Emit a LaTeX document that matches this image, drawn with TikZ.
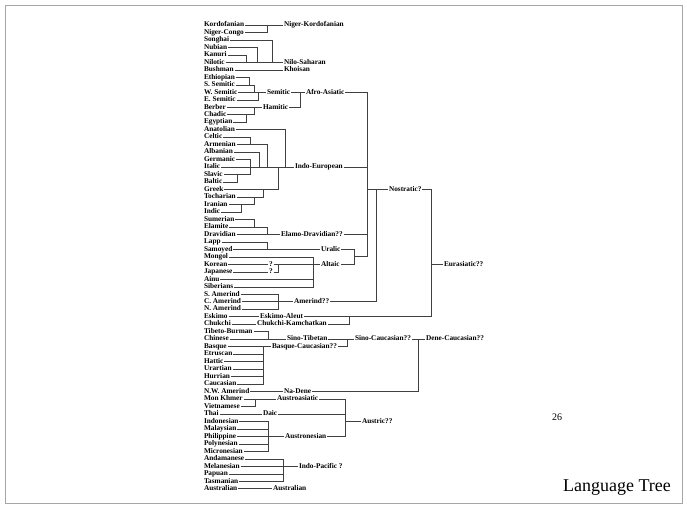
\documentclass[tikz,border=0pt]{standalone}
\usepackage{fontspec}
\setmainfont{Liberation Serif}
\usetikzlibrary{calc}

\tikzset{
  leaf/.style={anchor=west,inner sep=0.8pt,text height=5pt,text depth=1.5pt,
    font=\bfseries\fontsize{7.3}{8}\selectfont},
  grp/.style={leaf},
  link/.style={draw=black!75,line width=0.55pt}
}

\begin{document}
\begin{tikzpicture}[x=1pt,y=-1pt]
  \useasboundingbox (0,0) rectangle (687,508);
  \draw[black!35,line width=0.6pt] (5,5) rectangle (682,503);

  % languages, one row each
  \foreach \n/\t [count=\i from 0] in {kordo/Kordofanian,nicongo/Niger-Congo,
      songhai/Songhai,nubian/Nubian,kanuri/Kanuri,nilotic/Nilotic,bushman/Bushman,
      ethiop/Ethiopian,ssem/S. Semitic,wsem/W. Semitic,esem/E. Semitic,
      berber/Berber,chadic/Chadic,egypt/Egyptian,anat/Anatolian,celtic/Celtic,
      armen/Armenian,alban/Albanian,germ/Germanic,italic/Italic,slavic/Slavic,
      baltic/Baltic,greek/Greek,tochar/Tocharian,iran/Iranian,indic/Indic,
      sumer/Sumerian,elam/Elamite,dravid/Dravidian,lapp/Lapp,samoyed/Samoyed,
      mongol/Mongol,korean/Korean,japan/Japanese,ainu/Ainu,siber/Siberians,
      samer/S. Amerind,camer/C. Amerind,namer/N. Amerind,eskimo/Eskimo,
      chukchi/Chukchi,tibbur/Tibeto-Burman,chinese/Chinese,basque/Basque,
      etrus/Etruscan,hattic/Hattic,urart/Urartian,hurrian/Hurrian,cauc/Caucasian,
      nwamer/N.W. Amerind,monkh/Mon Khmer,viet/Vietnamese,thai/Thai,
      indon/Indonesian,malay/Malaysian,phil/Philippine,polyn/Polynesian,
      micron/Micronesian,andam/Andamanese,melan/Melanesian,papuan/Papuan,
      tasman/Tasmanian,austral/Australian}
    \node[leaf] (\n) at (203,{25+7.48*\i}) {\t};

  % families
  \node[grp] (nk) at (283,0 |- kordo) {Niger-Kordofanian};
  \node[grp] (ns) at (283,0 |- nilotic) {Nilo-Saharan};
  \node[grp] (khoi) at (283,0 |- bushman) {Khoisan};
  \node[grp] (sem) at (266,0 |- wsem) {Semitic};
  \node[grp] (afroas) at (305,0 |- wsem) {Afro-Asiatic};
  \node[grp] (ham) at (262,0 |- berber) {Hamitic};
  \node[grp] (ie) at (294,0 |- italic) {Indo-European};
  \node[grp] (ed) at (280,0 |- dravid) {Elamo-Dravidian??};
  \node[grp] (ural) at (320,0 |- samoyed) {Uralic};
  \node[grp] (qk) at (268,0 |- korean) {?};
  \node[grp] (qj) at (268,0 |- japan) {?};
  \node[grp] (alt) at (320,0 |- korean) {Altaic};
  \node[grp] (nost) at (388,0 |- greek) {Nostratic?};
  \node[grp] (amer) at (293,0 |- camer) {Amerind??};
  \node[grp] (eura) at (443,0 |- korean) {Eurasiatic??};
  \node[grp] (eskal) at (259,0 |- eskimo) {Eskimo-Aleut};
  \node[grp] (chuk) at (256,0 |- chukchi) {Chukchi-Kamchatkan};
  \node[grp] (st) at (286,0 |- chinese) {Sino-Tibetan};
  \node[grp] (sc) at (354,0 |- chinese) {Sino-Caucasian??};
  \node[grp] (dc) at (425,0 |- chinese) {Dene-Caucasian??};
  \node[grp] (bc) at (271,0 |- basque) {Basque-Caucasian??};
  \node[grp] (nadene) at (283,0 |- nwamer) {Na-Dene};
  \node[grp] (aa) at (276,0 |- monkh) {Austroasiatic};
  \node[grp] (daic) at (262,0 |- thai) {Daic};
  \node[grp] (an) at (284,0 |- phil) {Austronesian};
  \node[grp] (austric) at (361,0 |- indon) {Austric??};
  \node[grp] (ip) at (298,0 |- melan) {Indo-Pacific ?};
  \node[grp] (aus) at (272,0 |- austral) {Australian};

  % Niger-Kordofanian, Nilo-Saharan, Khoisan
  \draw[link] (kordo.east) -- (nk.west);
  \draw[link] (nicongo.east) -| (267,0 |- kordo);
  \draw[link] (nilotic.east) -- (ns.west);
  \draw[link] (songhai.east) -| (272,0 |- nilotic);
  \draw[link] (nubian.east) -| (257,0 |- nilotic);
  \draw[link] (kanuri.east) -| (246,0 |- nilotic);
  \draw[link] (bushman.east) -- (khoi.west);

  % Afro-Asiatic
  \draw[link] (wsem.east) -- (sem.west);
  \draw[link] (ethiop.east) -| (249,0 |- ssem);
  \draw[link] (ssem.east) -| (254,0 |- wsem);
  \draw[link] (esem.east) -| (258,0 |- wsem);
  \draw[link] (sem.east) -- (afroas.west);
  \draw[link] (berber.east) -- (ham.west);
  \draw[link] (chadic.east) -| (254,0 |- berber);
  \draw[link] (egypt.east) -| (246,0 |- chadic);
  \draw[link] (ham.east) -| (300,0 |- afroas);

  % Indo-European
  \draw[link] (italic.east) -- (ie.west);
  \draw[link] (anat.east) -| (285,0 |- italic);
  \draw[link] (celtic.east) -| (250,0 |- armen);
  \draw[link] (armen.east) -| (267,0 |- italic);
  \draw[link] (alban.east) -| (259,0 |- italic);
  \draw[link] (germ.east) -| (250,0 |- slavic) -- (slavic.east);
  \draw[link] (baltic.east) -| (237,0 |- slavic);
  \draw[link] (greek.east) -| (278,0 |- italic);
  \draw[link] (tochar.east) -| (263,0 |- greek);
  \draw[link] (iran.east) -| (254,0 |- tochar);
  \draw[link] (indic.east) -| (241,0 |- iran);

  % Elamo-Dravidian, Uralic, Altaic
  \draw[link] (dravid.east) -- (ed.west);
  \draw[link] (sumer.east) -| (254,0 |- elam);
  \draw[link] (elam.east) -| (267,0 |- dravid);
  \draw[link] (samoyed.east) -- (ural.west);
  \draw[link] (lapp.east) -| (267,0 |- samoyed);
  \draw[link] (korean.east) -- (qk.west);
  \draw[link] (japan.east) -- (qj.west);
  \draw[link] (qk.east) -- (alt.west);
  \draw[link] (qj.east) -| (278,0 |- qk);
  \draw[link] (mongol.east) -| (313,0 |- siber) -- (siber.east);
  \draw[link] (ainu.east) -- (313,0 |- ainu);

  % Nostratic and Eurasiatic
  \coordinate (ua) at (354,256);
  \draw[link] (ural.east) -| (354,0 |- alt) -- (alt.east);
  \draw[link] (ua) -- (367,0 |- ua) |- (afroas.east);
  \draw[link] (ie.east) -- (367,0 |- ie);
  \draw[link] (ed.east) -- (367,0 |- ed);
  \draw[link] (367,0 |- nost) -- (nost.west);
  \draw[link] (camer.east) -- (amer.west);
  \draw[link] (samer.east) -| (278,0 |- namer) -- (namer.east);
  \draw[link] (amer.east) -| (376,0 |- nost);
  \draw[link] (eskimo.east) -- (eskal.west);
  \draw[link] (chukchi.east) -- (chuk.west);
  \draw[link] (chuk.east) -| (349,0 |- eskal);
  \draw[link] (nost.east) -| (431,0 |- eskal) -- (eskal.east);
  \draw[link] (431,0 |- eura) -- (eura.west);

  % Dene-Caucasian
  \draw[link] (chinese.east) -- (st.west);
  \draw[link] (tibbur.east) -| (268,0 |- chinese);
  \draw[link] (st.east) -- (sc.west);
  \draw[link] (basque.east) -- (bc.west);
  \draw[link] (bc.east) -| (347,0 |- st);
  \draw[link] (263,0 |- basque) |- (cauc.east);
  \foreach \n in {etrus,hattic,urart,hurrian}
    \draw[link] (\n.east) -- (263,0 |- \n);
  \draw[link] (nwamer.east) -- (nadene.west);
  \draw[link] (sc.east) -| (418,0 |- nadene) -- (nadene.east);
  \draw[link] (418,0 |- sc) -- (dc.west);

  % Austric
  \draw[link] (monkh.east) -- (aa.west);
  \draw[link] (viet.east) -| (255,0 |- monkh);
  \draw[link] (thai.east) -- (daic.west);
  \draw[link] (phil.east) -- (an.west);
  \draw[link] (indon.east) -| (268,0 |- micron) -- (micron.east);
  \foreach \n in {malay,polyn}
    \draw[link] (\n.east) -- (268,0 |- \n);
  \draw[link] (aa.east) -| (345,0 |- an) -- (an.east);
  \draw[link] (daic.east) -- (345,0 |- daic);
  \draw[link] (345,0 |- austric) -- (austric.west);

  % Indo-Pacific, Australian
  \draw[link] (melan.east) -- (ip.west);
  \draw[link] (andam.east) -| (283,0 |- tasman) -- (tasman.east);
  \draw[link] (papuan.east) -- (283,0 |- papuan);
  \draw[link] (austral.east) -- (aus.west);

  \node[font=\fontsize{10}{12}\selectfont] (pg) at (557,417) {26};
  \node[font=\fontsize{18}{21}\selectfont] (title) at (617,488) {Language Tree};
\end{tikzpicture}
\end{document}
